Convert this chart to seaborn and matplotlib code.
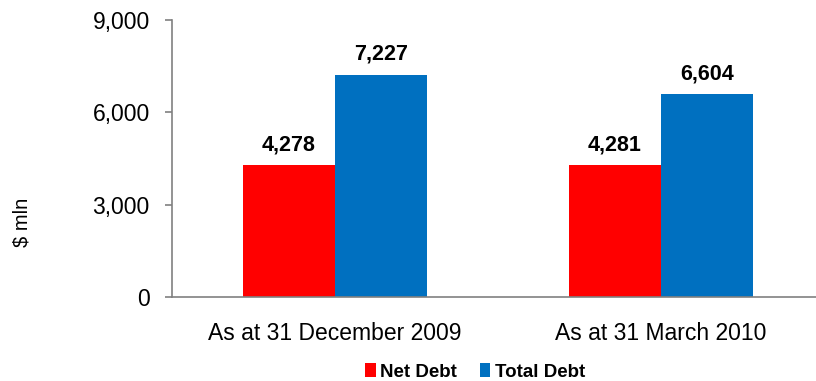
import matplotlib
matplotlib.use("Agg")
import matplotlib.pyplot as plt
import seaborn as sns
import pandas as pd
from matplotlib.patches import Patch

# Data
periods = ["As at 31 December 2009", "As at 31 March 2010"]
net_debt = [4278, 4281]
total_debt = [7227, 6604]
series_names = ["Net Debt", "Total Debt"]
colors = {"Net Debt": "#FF0000", "Total Debt": "#0070C0"}
y_ticks = [0, 3000, 6000, 9000]

df = pd.DataFrame({
    "period": periods * 2,
    "series": [series_names[0]] * len(periods) + [series_names[1]] * len(periods),
    "value": net_debt + total_debt,
})

sns.set_style("white")
plt.rcParams["font.family"] = ["Liberation Sans", "DejaVu Sans"]
plt.rcParams["text.color"] = "black"
plt.rcParams["xtick.color"] = "black"
plt.rcParams["ytick.color"] = "black"

fig = plt.figure(figsize=(8.16, 3.81), dpi=100)
ax = fig.add_axes([172 / 816, 84 / 381, (824 - 172) / 816, (297 - 20) / 381])

sns.barplot(data=df, x="period", y="value", hue="series", order=periods,
            hue_order=series_names, palette=colors, width=0.566, gap=0,
            saturation=1, legend=False, ax=ax, errorbar=None, linewidth=0)

for container in ax.containers:
    ax.bar_label(container, labels=[f"{v:,.0f}" for v in container.datavalues],
                 padding=7, fontsize=15.5, fontweight="bold", color="black")

ax.set_xlim(-0.5, 1.5)
ax.set_ylim(0, 9000)
ax.set_yticks(y_ticks)
ax.set_yticklabels([f"{v:,}" for v in y_ticks], fontsize=16.5, color="black")
ax.set_xlabel("")
ax.set_ylabel("")

# Category tick marks on boundaries, labels at centres
ax.set_xticks([0, 1])
ax.set_xticklabels(periods, fontsize=16.5, color="black")
ax.set_xticks([-0.5, 0.5, 1.5], minor=True)
ax.tick_params(axis="x", which="major", length=0, pad=18)
ax.tick_params(axis="x", which="minor", length=5, width=1.2, color="#808080",
               direction="out")
ax.tick_params(axis="y", length=5, width=1.2, color="#808080",
               direction="out", pad=11, left=True)

for side in ["top", "right"]:
    ax.spines[side].set_visible(False)
for side in ["left", "bottom"]:
    ax.spines[side].set_color("#808080")
    ax.spines[side].set_linewidth(1.2)

fig.text(22 / 816, 1 - 222 / 381, "$ mln", rotation=90, fontsize=14.5,
         ha="center", va="center", color="black")

handles = [Patch(facecolor=colors[s], edgecolor="none") for s in series_names]
leg = fig.legend(handles, series_names, loc="center",
                 bbox_to_anchor=(475 / 816, 9 / 381), ncol=2, frameon=False,
                 handlelength=0.55, handleheight=0.75, handletextpad=0.25,
                 columnspacing=1.2, prop={"size": 13.5, "weight": "bold"})
for t in leg.get_texts():
    t.set_color("black")

fig.savefig("out.png", dpi=100)
